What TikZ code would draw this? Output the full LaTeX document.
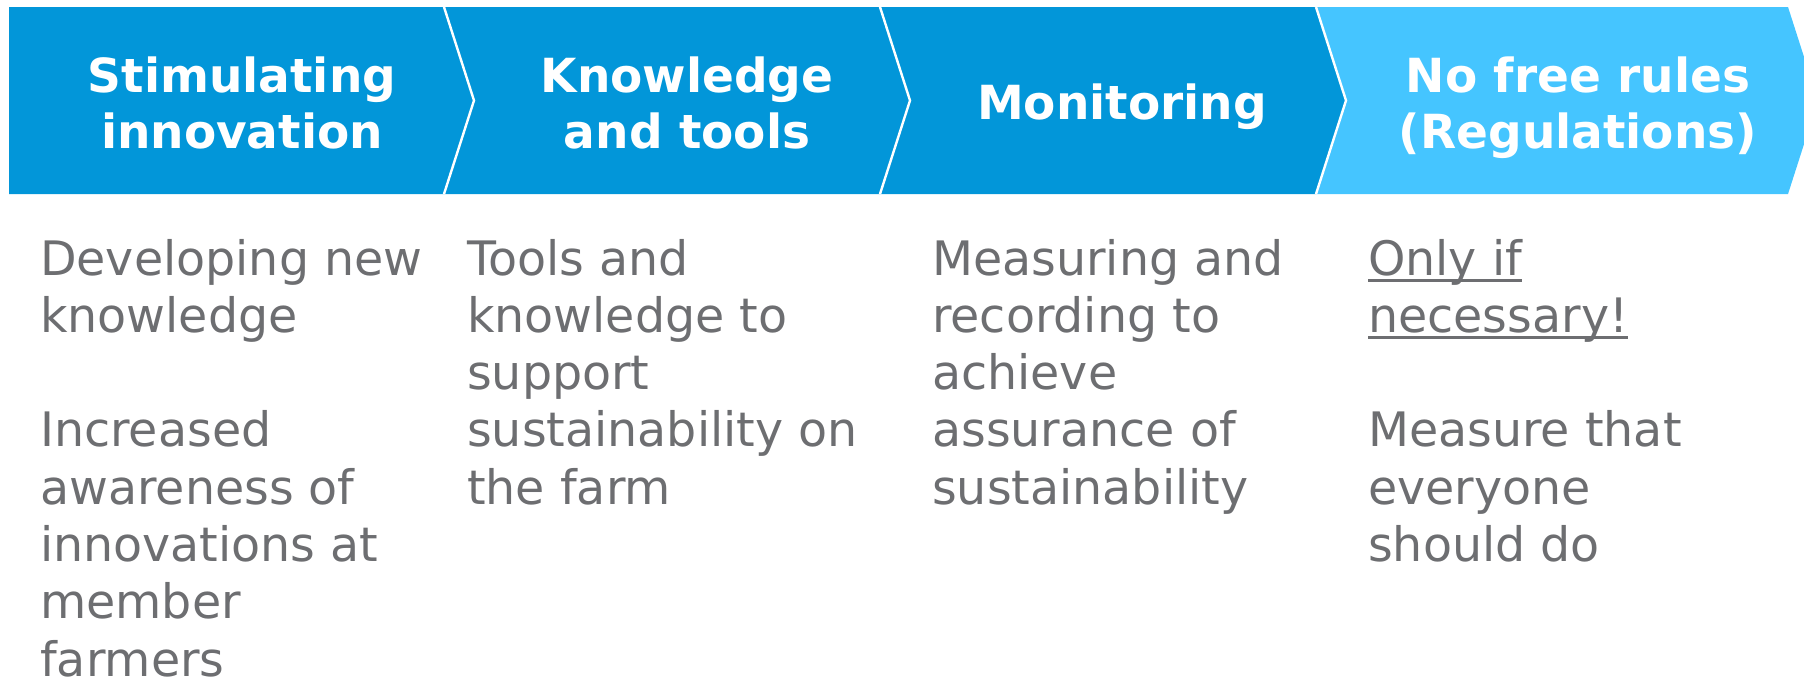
\documentclass[tikz,border=0pt]{standalone}
\usepackage{fontspec}
\setmainfont{DejaVu Sans}
\definecolor{darkblue}{HTML}{0296D9}
\definecolor{lightblue}{HTML}{45C5FF}
\definecolor{bodygray}{HTML}{6D6E71}
\newcommand\myul[1]{\leavevmode\setbox0\hbox{#1}\rlap{\rule[-6.5pt]{\wd0}{2.6pt}}\box0}
\tikzset{
  chev/.style={fill=darkblue, draw=none},
  chevlight/.style={fill=lightblue, draw=none},
  sep/.style={draw=white, line width=2.4pt},
  head/.style={anchor=base, inner sep=0pt, text=white, font=\bfseries\fontsize{47}{56}\selectfont},
  body/.style={anchor=base west, inner sep=0pt, text=bodygray, font=\fontsize{47.5}{57.3}\selectfont}
}
\begin{document}
\begin{tikzpicture}[x=1pt, y=-1pt]
\useasboundingbox (0,0) rectangle (1804,681);
\begin{scope}
\clip (0,0) rectangle (1804,681);
\fill[chev] (9,7) -- (444,7) -- (474,100.5) -- (444,194) -- (9,194) -- cycle;
\fill[chev] (444,7) -- (880,7) -- (910,100.5) -- (880,194) -- (444,194) -- (474,100.5) -- cycle;
\fill[chev] (880,7) -- (1316,7) -- (1346,100.5) -- (1316,194) -- (880,194) -- (910,100.5) -- cycle;
\fill[chevlight] (1316,7) -- (1788,7) -- (1818,100.5) -- (1788,194) -- (1316,194) -- (1346,100.5) -- cycle;
\draw[sep] (444,7) -- (474,100.5) -- (444,194);
\draw[sep] (880,7) -- (910,100.5) -- (880,194);
\draw[sep] (1316,7) -- (1346,100.5) -- (1316,194);
\end{scope}

\node[head] (h1) at (242,92) {\parbox[t]{420pt}{\centering Stimulating\\innovation}};
\node[head] (h2) at (687,92) {\parbox[t]{420pt}{\centering Knowledge\\and tools}};
\node[head] (h3) at (1122,119) {\parbox[t]{420pt}{\centering Monitoring}};
\node[head] (h4) at (1578,92) {\parbox[t]{440pt}{\centering No free rules\\(Regulations)}};

\node[body] (b1) at (40,275) {\parbox[t]{420pt}{\raggedright Developing new\\knowledge\\[57.3pt]Increased\\awareness of\\innovations at\\member\\farmers}};
\node[body] (b2) at (467,275) {\parbox[t]{420pt}{\raggedright Tools and\\knowledge to\\support\\sustainability on\\the farm}};
\node[body] (b3) at (932,275) {\parbox[t]{420pt}{\raggedright Measuring and\\recording to\\achieve\\assurance of\\sustainability}};
\node[body] (b4) at (1368,275) {\parbox[t]{420pt}{\raggedright \myul{Only if}\\\myul{necessary!}\\[57.3pt]Measure that\\everyone\\should do}};
\end{tikzpicture}
\end{document}
